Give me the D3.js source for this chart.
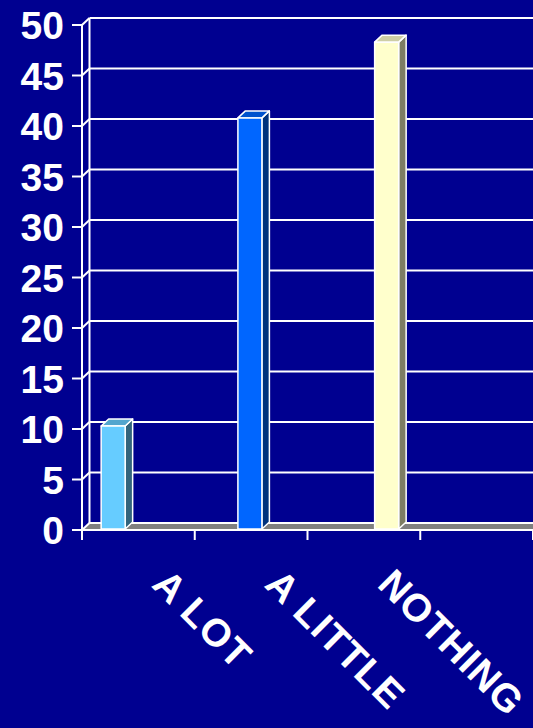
<!DOCTYPE html>
<html>
<head>
<meta charset="utf-8">
<script src="https://cdn.jsdelivr.net/npm/d3@7"></script>
<style>
  html, body { margin: 0; padding: 0; background: #000090; }
  svg { display: block; }
</style>
</head>
<body>
<script>
// ---- data ----
const categories = ["A LOT", "A LITTLE", "NOTHING"];
const values = [10.3, 40.8, 48.3];
const barColors = ["#66CCFF", "#0066FF", "#FFFFCC"];
const yTicks = [0, 5, 10, 15, 20, 25, 30, 35, 40, 45, 50];
const slotCount = 4; // axis shows four category slots

// ---- layout ----
const W = 533, H = 728;
const depth = { dx: 7.5, dy: -7 };
const svg = d3.select("body").append("svg").attr("width", W).attr("height", H);
svg.append("rect").attr("width", W).attr("height", H).attr("fill", "#000090");

const y = d3.scaleLinear().domain([0, 50]).range([530, 25]);
const x = d3.scaleLinear().domain([0, slotCount]).range([82, 533]);
const inner = d3.scaleBand().domain(d3.range(categories.length))
  .range([0, x(1) - x(0)]).paddingInner(0).paddingOuter(0.849).align(0.47);

const font = "'Liberation Sans', Arial, sans-serif";
const white = "#ffffff";

// floor
const x0 = x(0), x1 = x(slotCount);
svg.append("path")
  .attr("d", `M${x0},${y(0)} L${x1},${y(0)} L${x1 + depth.dx},${y(0) + depth.dy} L${x0 + depth.dx},${y(0) + depth.dy} Z`)
  .attr("fill", "#808080");

// back wall gridlines
const g = svg.append("g").attr("stroke", white).attr("stroke-width", 2).attr("fill", "none");
yTicks.forEach(t => {
  g.append("line").attr("x1", x0 + depth.dx).attr("x2", W + 10)
    .attr("y1", y(t) + depth.dy).attr("y2", y(t) + depth.dy);
  g.append("line").attr("x1", x0).attr("x2", x0 + depth.dx)
    .attr("y1", y(t)).attr("y2", y(t) + depth.dy);
  g.append("line").attr("x1", x0 - 10).attr("x2", x0)
    .attr("y1", y(t)).attr("y2", y(t));
});
// back wall vertical edge
g.append("line").attr("x1", x0 + depth.dx).attr("x2", x0 + depth.dx)
  .attr("y1", y(50) + depth.dy).attr("y2", y(0) + depth.dy);
// front axis
g.append("line").attr("x1", x0).attr("x2", x0).attr("y1", y(50)).attr("y2", y(0));
g.append("line").attr("x1", x0).attr("x2", W + 10).attr("y1", y(0)).attr("y2", y(0));
// x ticks
d3.range(slotCount + 1).forEach(i => {
  g.append("line").attr("x1", x(i)).attr("x2", x(i)).attr("y1", y(0)).attr("y2", y(0) + 10);
});

// bars (3D boxes)
const bars = svg.append("g");
categories.forEach((c, i) => {
  const bx = x(i) + inner(i);
  const bw = inner.bandwidth();
  const top = y(values[i]);
  const base = y(0) - 1;
  const col = d3.color(barColors[i]);
  const bg = bars.append("g").attr("stroke", white).attr("stroke-width", 1.5).attr("stroke-linejoin", "round");
  // side
  bg.append("path")
    .attr("d", `M${bx + bw},${top} L${bx + bw + depth.dx},${top + depth.dy} L${bx + bw + depth.dx},${base + depth.dy} L${bx + bw},${base} Z`)
    .attr("fill", col.darker(2).formatHex());
  // top
  bg.append("path")
    .attr("d", `M${bx},${top} L${bx + depth.dx},${top + depth.dy} L${bx + bw + depth.dx},${top + depth.dy} L${bx + bw},${top} Z`)
    .attr("fill", col.darker(0.6).formatHex());
  // front
  bg.append("rect").attr("x", bx).attr("y", top).attr("width", bw).attr("height", base - top)
    .attr("fill", barColors[i]);
});

// y labels
svg.append("g").selectAll("text").data(yTicks).join("text")
  .attr("x", 64).attr("y", d => y(d)).attr("dy", "0.36em")
  .attr("text-anchor", "end")
  .attr("font-family", font).attr("font-weight", "bold").attr("font-size", 39)
  .attr("fill", white).text(d => d);

// x labels
svg.append("g").selectAll("text").data(categories).join("text")
  .attr("transform", (d, i) => `translate(${(x(i) + x(i + 1)) / 2 + 12},586) rotate(45)`)
  .attr("text-anchor", "start")
  .attr("font-family", font).attr("font-weight", "bold").attr("font-size", 39)
  .attr("letter-spacing", 1)
  .attr("fill", white).text(d => d);
</script>
</body>
</html>
